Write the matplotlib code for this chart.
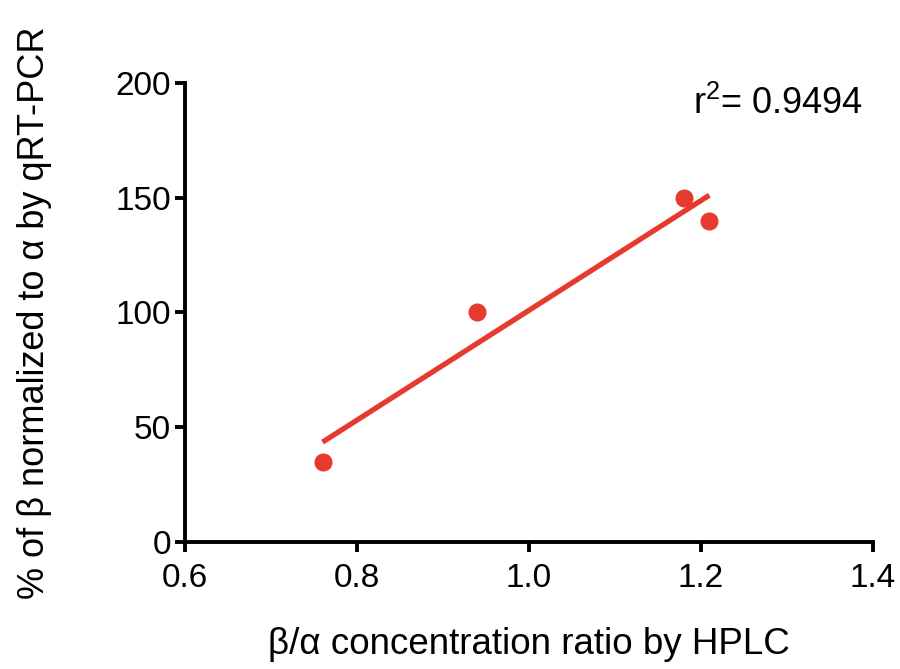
import numpy as np
import matplotlib
matplotlib.use("Agg")
import matplotlib.pyplot as plt

plt.rcParams['font.family'] = ['Liberation Sans', 'DejaVu Sans']
plt.rcParams['mathtext.fontset'] = 'custom'
plt.rcParams['mathtext.rm'] = 'Liberation Sans'
plt.rcParams['mathtext.it'] = 'Liberation Sans'

# data
ratio_hplc = [0.76, 0.94, 1.18, 1.21]
pct_qpcr = [35, 100, 150, 140]
x_ticks = [0.6, 0.8, 1.0, 1.2, 1.4]
y_ticks = [0, 50, 100, 150, 200]
r2_text = 'r$^{2}$= 0.9494'

red = '#e63a2e'

fig = plt.figure(figsize=(9, 6.69), dpi=100)
ax = fig.add_axes([0.2056, 0.19, 0.764, 0.686])

ax.plot(ratio_hplc, pct_qpcr, 'o', color=red, markersize=12, zorder=3)

# linear regression line across the data range
slope, intercept = np.polyfit(ratio_hplc, pct_qpcr, 1)
xs = np.array([min(ratio_hplc), max(ratio_hplc)])
ax.plot(xs, slope * xs + intercept, color=red, linewidth=3.8, solid_capstyle='butt')

ax.set_xlim(0.6, 1.4)
ax.set_ylim(0, 200)
ax.set_xticks(x_ticks)
ax.set_xticklabels(['%.1f' % t for t in x_ticks])
ax.set_yticks(y_ticks)

for s in ['top', 'right']:
    ax.spines[s].set_visible(False)
for s in ['left', 'bottom']:
    ax.spines[s].set_linewidth(2.8)
ax.tick_params(direction='out', length=7, width=2.8, labelsize=24, pad=3)
ax.tick_params(axis='x', pad=8)

ax.set_xlabel('\u03b2/\u03b1 concentration ratio by HPLC', fontsize=26.5, labelpad=24)
ax.set_ylabel('% of \u03b2 normalized to \u03b1 by qRT-PCR', fontsize=26, labelpad=46)

ax.text(0.862, 0.955, r2_text, transform=ax.transAxes, fontsize=26, ha='center', va='center')

fig.savefig('out.png', dpi=100)
